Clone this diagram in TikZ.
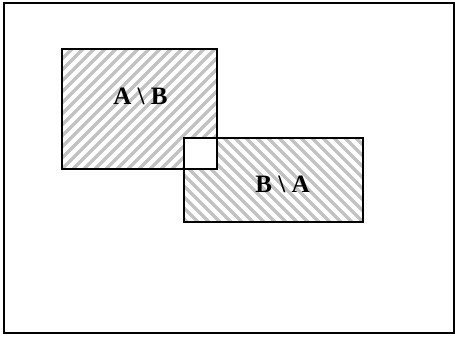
\documentclass[tikz,border=0pt]{standalone}
\usepackage{fontspec}
\setmainfont{Liberation Serif}
\begin{document}
\begin{tikzpicture}[x=1pt,y=-1pt,
  hatchline/.style={line width=3.4pt, draw=black!24},
  setbox/.style={draw=black, line width=1.8pt, inner sep=0pt, rectangle},
  hatchNE/.style={path picture={
      \foreach \i in {-220,-209,...,220}
        \draw[hatchline] ([xshift=\i pt]path picture bounding box.south west) -- ++(220pt,220pt);}},
  hatchNW/.style={path picture={
      \foreach \i in {-220,-209,...,220}
        \draw[hatchline] ([xshift=\i pt]path picture bounding box.south east) -- ++(-220pt,220pt);}},
  lbl/.style={font=\fontsize{25pt}{27pt}\selectfont\bfseries, inner sep=0pt}
]
\useasboundingbox (0,0) rectangle (455,338);
\node[draw=black, line width=1.6pt, minimum width=450pt, minimum height=330pt, inner sep=0pt] (frame) at (229,168) {};
\node[setbox, hatchNE, minimum width=155pt, minimum height=120pt] (A) at (139.5,109) {};
\node[setbox, hatchNW, minimum width=179pt, minimum height=84pt] (B) at (273.5,180) {};
\node[setbox, fill=white, minimum width=33pt, minimum height=31pt] (AB) at (200.5,153.5) {};
\node[lbl] (la) at (140.5,96) {A \textbackslash{} B};
\node[lbl] (lb) at (282.5,184) {B \textbackslash{} A};
\end{tikzpicture}
\end{document}
